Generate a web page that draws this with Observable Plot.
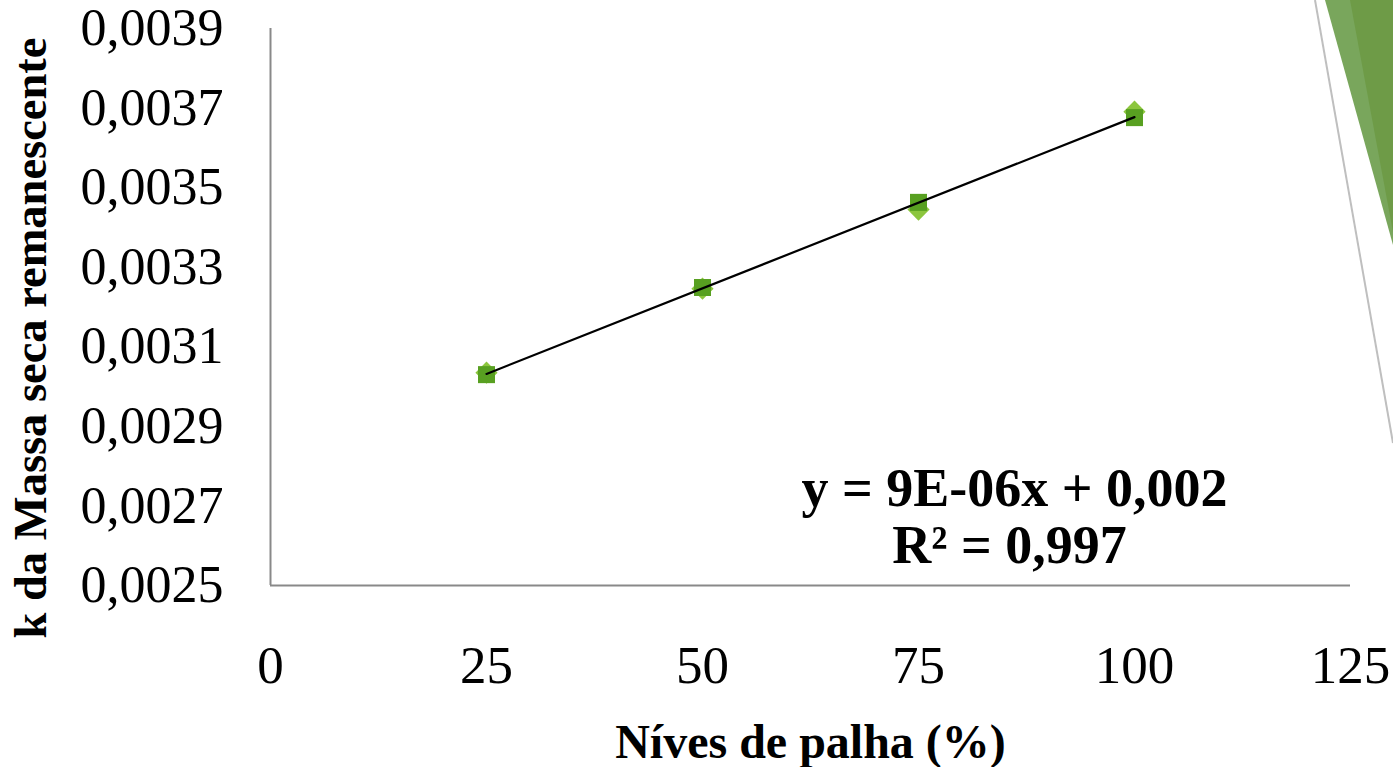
<!DOCTYPE html>
<html>
<head>
<meta charset="utf-8">
<script src="https://cdn.jsdelivr.net/npm/d3@7"></script>
<script src="https://cdn.jsdelivr.net/npm/@observablehq/plot@0.6"></script>
<style>
  html, body { margin: 0; padding: 0; background: #ffffff; }
  #wrap { position: relative; width: 1393px; height: 767px; overflow: hidden; }
  #deco { position: absolute; left: 0; top: 0; pointer-events: none; }
</style>
</head>
<body>
<div id="wrap"></div>
<script>
// ---- data ----
const niveis = [25, 50, 75, 100];
const kSquare = [0.003030, 0.003249, 0.003463, 0.003676];
const kDiamond = [0.003035, 0.003246, 0.003445, 0.003691];
const xTicks = [0, 25, 50, 75, 100, 125];
const yTicks = [0.0025, 0.0027, 0.0029, 0.0031, 0.0033, 0.0035, 0.0037, 0.0039];
const xTitle = "Níves de palha (%)";
const yTitle = "k da Massa seca remanescente";
const eqLine1 = "y = 9E-06x + 0,002";
const eqLine2 = "R² = 0,997";

const squares = niveis.map((x, i) => ({x, y: kSquare[i]}));
const diamonds = niveis.map((x, i) => ({x, y: kDiamond[i]}));
const fmtY = d => d.toFixed(4).replace(".", ",");
const serif = "'Liberation Serif', 'Times New Roman', serif";

const chart = Plot.plot({
  width: 1393,
  height: 767,
  marginLeft: 270,
  marginRight: 43,
  marginTop: 28,
  marginBottom: 182,
  style: {fontFamily: serif, fontSize: "52px", color: "#000", background: "#fff"},
  x: {domain: [0, 125]},
  y: {domain: [0.0025, 0.0039]},
  marks: [
    Plot.axisY(yTicks, {tickSize: 0, tickPadding: 47, tickFormat: fmtY, fontSize: 52, label: null}),
    Plot.axisX(xTicks, {tickSize: 0, tickPadding: 60, fontSize: 53, label: null}),
    Plot.ruleX([0], {stroke: "#898989", strokeWidth: 2}),
    Plot.ruleY([0.0025], {stroke: "#898989", strokeWidth: 2}),
    Plot.dot(diamonds, {x: "x", y: "y", symbol: "diamond2", r: 10, fill: "#8cc63e", stroke: "none"}),
    Plot.dot(squares, {x: "x", y: "y", symbol: "square", r: 9.6, fill: "#58a021", stroke: "none"}),
    Plot.linearRegressionY(squares, {x: "x", y: "y", ci: 0, stroke: "#000", strokeWidth: 2.2}),
    Plot.text([eqLine1], {frameAnchor: "top-left", dx: 744, dy: 460, fontSize: 54, fontWeight: "bold", textAnchor: "middle", lineAnchor: "middle", fill: "#000"}),
    Plot.text([eqLine2], {frameAnchor: "top-left", dx: 739, dy: 517, fontSize: 54, fontWeight: "bold", textAnchor: "middle", lineAnchor: "middle", fill: "#000"}),
    Plot.text([xTitle], {frameAnchor: "bottom", dy: 157, fontSize: 48, fontWeight: "bold", textAnchor: "middle", lineAnchor: "middle", fill: "#000"}),
    Plot.text([yTitle], {frameAnchor: "left", dx: -239, dy: 31, rotate: -90, fontSize: 46.5, fontWeight: "bold", textAnchor: "middle", lineAnchor: "middle", fill: "#000"})
  ]
});

const wrap = document.getElementById("wrap");
wrap.appendChild(chart);

// decorative corner shapes (slide theme)
const ns = "http://www.w3.org/2000/svg";
const deco = document.createElementNS(ns, "svg");
deco.setAttribute("id", "deco");
deco.setAttribute("width", 1393);
deco.setAttribute("height", 767);
deco.innerHTML = `
  <polygon points="1325,0 1393,0 1393,245" fill="#79a65c"/>
  <polygon points="1350,0 1393,0 1393,232" fill="#6e9b47"/>
  <line x1="1315" y1="0" x2="1393" y2="443" stroke="#bfbfbf" stroke-width="2"/>
`;
wrap.appendChild(deco);
</script>
</body>
</html>
